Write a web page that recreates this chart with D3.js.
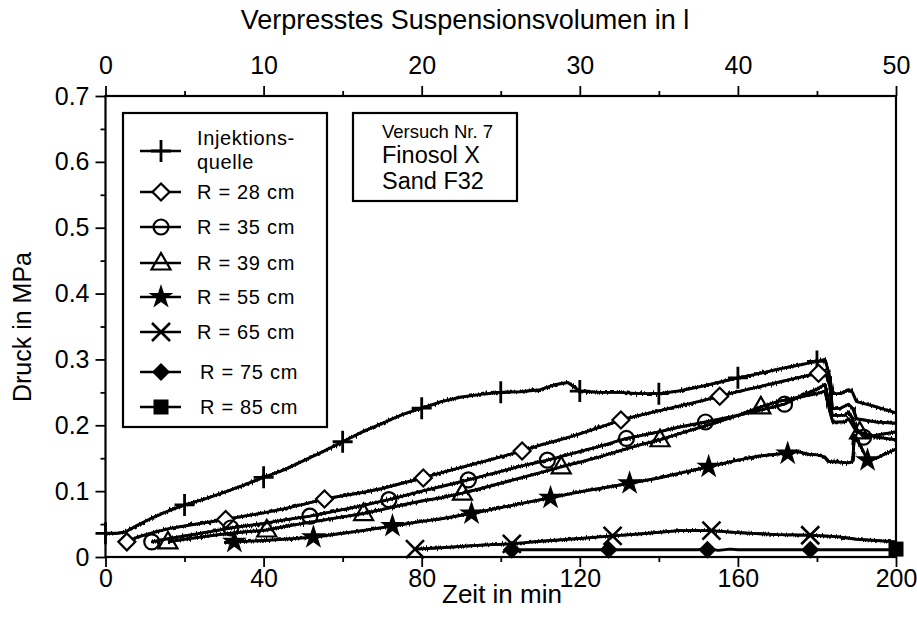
<!DOCTYPE html>
<html><head><meta charset="utf-8">
<script src="https://cdn.jsdelivr.net/npm/d3@7"></script>
<style>
body{margin:0;background:#fff;}
text{font-family:"Liberation Sans",Arial,sans-serif;fill:#000;}
</style></head>
<body><svg id="c" width="917" height="634"></svg>
<script>
// ---- data ----
const xTicksMajor = [0, 40, 80, 120, 160, 200];
const xTicksMinor = [20, 60, 100, 140, 180];
const x2TicksMajor = [0, 10, 20, 30, 40, 50];
const x2TicksMinor = [5, 15, 25, 35, 45];
const yTicksMajor = [0, 0.1, 0.2, 0.3, 0.4, 0.5, 0.6, 0.7];
const yTicksMinor = [0.05, 0.15, 0.25, 0.35, 0.45, 0.55, 0.65];

const injLine = [[0,0.036],[3,0.036],[5,0.038],[8,0.048],[12,0.06],[16,0.07],[20,0.079],[25,0.088],[30,0.098],[35,0.109],[40,0.121],[45,0.132],[50,0.146],[55,0.16],[60,0.175],[65,0.19],[70,0.203],[75,0.216],[80,0.226],[85,0.236],[90,0.243],[95,0.247],[100,0.25],[105,0.251],[110,0.254],[114,0.262],[117,0.265],[120,0.252],[125,0.25],[130,0.25],[135,0.248],[140,0.248],[145,0.252],[150,0.258],[155,0.265],[160,0.272],[165,0.278],[170,0.285],[175,0.291],[180,0.297],[182,0.3],[183,0.28],[184,0.248],[186,0.248],[188,0.254],[189,0.25],[190,0.236],[195,0.228],[200,0.219]];
const injMarks = [[0,0.036],[20,0.079],[40,0.121],[60,0.175],[80,0.226],[100,0.25],[120,0.252],[140,0.248],[160,0.272],[180,0.297]];

const r28Line = [[5.4,0.023],[8,0.03],[12,0.037],[16,0.043],[20,0.047],[25,0.052],[30.4,0.057],[35,0.062],[40,0.067],[45,0.073],[50,0.08],[55.4,0.088],[60,0.093],[65,0.098],[70,0.104],[75,0.112],[80.4,0.12],[85,0.128],[90,0.136],[95,0.144],[100,0.152],[105.4,0.161],[110,0.17],[115,0.178],[120,0.187],[125,0.197],[130.4,0.208],[135,0.215],[140,0.222],[145,0.229],[150,0.236],[155.4,0.244],[160,0.251],[165,0.258],[170,0.265],[175,0.272],[180.4,0.279],[182,0.283],[183.2,0.26],[184,0.225],[186,0.226],[188,0.232],[189,0.226],[190,0.21],[195,0.205],[200,0.203]];
const r28Marks = [[5.4,0.023],[30.4,0.057],[55.4,0.088],[80.4,0.12],[105.4,0.161],[130.4,0.208],[155.4,0.244],[180.4,0.279]];

const r35Line = [[11.7,0.023],[15,0.027],[20,0.032],[25,0.037],[31.7,0.044],[40,0.051],[45,0.056],[51.7,0.062],[60,0.072],[65,0.078],[71.7,0.087],[80,0.1],[85,0.107],[91.8,0.117],[100,0.13],[105,0.138],[111.8,0.147],[120,0.16],[125,0.168],[131.8,0.18],[140,0.19],[145,0.197],[151.8,0.205],[160,0.215],[165,0.222],[171.8,0.232],[176,0.245],[180,0.255],[182,0.262],[183.3,0.23],[184,0.215],[187,0.215],[188,0.22],[189,0.21],[190,0.195],[191.8,0.182],[195,0.185],[200,0.19]];
const r35Marks = [[11.7,0.023],[31.7,0.044],[51.7,0.062],[71.7,0.087],[91.8,0.117],[111.8,0.147],[131.8,0.18],[151.8,0.205],[171.8,0.232],[191.8,0.182]];

const r39Line = [[15.8,0.023],[20,0.027],[25,0.031],[30,0.035],[35,0.038],[40.8,0.041],[45,0.046],[50,0.051],[55,0.056],[60,0.061],[65.3,0.066],[70,0.072],[75,0.079],[80,0.085],[85,0.09],[90.3,0.097],[95,0.104],[100,0.112],[105,0.12],[110,0.128],[115.3,0.137],[120,0.144],[125,0.152],[130,0.161],[135,0.17],[140.3,0.178],[145,0.187],[150,0.196],[155,0.205],[160,0.215],[165.8,0.228],[170,0.236],[175,0.242],[180,0.248],[182,0.252],[183.3,0.22],[184,0.205],[187,0.205],[188,0.21],[189,0.2],[190,0.19],[191.8,0.188],[195,0.182],[200,0.178]];
const r39Marks = [[15.8,0.023],[40.8,0.041],[65.3,0.066],[90.3,0.097],[115.3,0.137],[140.3,0.178],[165.8,0.228],[190.8,0.19]];

const r55Line = [[30,0.022],[32.6,0.023],[40,0.025],[45,0.027],[52.6,0.03],[60,0.036],[65,0.04],[72.6,0.047],[80,0.054],[85,0.058],[92.6,0.066],[100,0.075],[105,0.081],[112.6,0.09],[120,0.099],[125,0.104],[132.6,0.112],[140,0.12],[145,0.127],[152.6,0.137],[160,0.147],[165,0.153],[172.6,0.158],[175,0.16],[178,0.156],[180,0.155],[182,0.152],[183,0.145],[188,0.143],[189,0.145],[189.5,0.185],[190.5,0.175],[192.8,0.147],[195,0.15],[200,0.164]];
const r55Marks = [[32.6,0.023],[52.6,0.03],[72.6,0.047],[92.6,0.066],[112.6,0.09],[132.6,0.112],[152.6,0.137],[172.6,0.157],[192.8,0.147]];

const r65Line = [[78.3,0.012],[85,0.014],[95,0.018],[102.8,0.02],[110,0.024],[120,0.028],[128.3,0.032],[135,0.035],[145,0.04],[153.3,0.04],[160,0.037],[170,0.034],[178.3,0.033],[185,0.031],[190,0.027],[195,0.025],[200,0.023]];
const r65Marks = [[78.3,0.012],[102.8,0.02],[128.3,0.032],[153.3,0.04],[178.3,0.033]];

const r75Line = [[102.8,0.011],[150,0.011],[152,0.013],[155,0.01],[158,0.012],[160,0.011],[200,0.011]];
const r75Marks = [[102.8,0.011],[127.3,0.011],[152.3,0.011],[178.3,0.011]];

const r85Line = [[200,0.012]];
const r85Marks = [[200,0.012]];

const legendLabels = ["Injektions-|quelle","R = 28 cm","R = 35 cm","R = 39 cm","R = 55 cm","R = 65 cm","R = 75 cm","R = 85 cm"];
const boxLines = ["Versuch Nr. 7","Finosol X","Sand F32"];

// ---- drawing ----
const svg = d3.select("#c");
const L = 105.5, R = 896, T = 96, B = 557;
const x = d3.scaleLinear().domain([0,200]).range([L,R]);
const x2 = d3.scaleLinear().domain([0,50]).range([L,R]);
const y = d3.scaleLinear().domain([0,0.7]).range([B,T]);

const defs = svg.append("defs");
const f = defs.append("filter").attr("id","jit").attr("filterUnits","userSpaceOnUse")
  .attr("x",0).attr("y",0).attr("width",917).attr("height",634);
f.append("feTurbulence").attr("type","fractalNoise").attr("baseFrequency","0.8 0.06").attr("numOctaves",1).attr("seed",4).attr("result","n");
f.append("feDisplacementMap").attr("in","SourceGraphic").attr("in2","n").attr("scale",7).attr("xChannelSelector","G").attr("yChannelSelector","R");

const fs = 25;
function axisStyle(g){ g.select(".domain").remove(); g.selectAll("line").attr("stroke","#000").attr("stroke-width",1.8); g.selectAll("text").attr("font-size",fs).attr("font-family","Liberation Sans, Arial, sans-serif"); }

svg.append("g").attr("transform",`translate(0,${B})`).call(d3.axisBottom(x).tickValues(xTicksMinor).tickSize(5).tickFormat("")).call(axisStyle);
svg.append("g").attr("transform",`translate(0,${B})`).call(d3.axisBottom(x).tickValues(xTicksMajor).tickSize(10).tickPadding(2).tickFormat(d3.format("d"))).call(axisStyle);
svg.append("g").attr("transform",`translate(0,${T})`).call(d3.axisTop(x2).tickValues(x2TicksMinor).tickSize(5).tickFormat("")).call(axisStyle);
svg.append("g").attr("transform",`translate(0,${T})`).call(d3.axisTop(x2).tickValues(x2TicksMajor).tickSize(10).tickPadding(12).tickFormat(d3.format("d"))).call(axisStyle);
svg.append("g").attr("transform",`translate(${L},0)`).call(d3.axisLeft(y).tickValues(yTicksMinor).tickSize(5).tickFormat("")).call(axisStyle);
svg.append("g").attr("transform",`translate(${L},0)`).call(d3.axisLeft(y).tickValues(yTicksMajor).tickSize(10).tickPadding(6).tickFormat(d=>d===0?"0":d3.format(".1f")(d))).call(axisStyle);

svg.append("rect").attr("x",L).attr("y",T).attr("width",R-L).attr("height",B-T).attr("fill","none").attr("stroke","#000").attr("stroke-width",2.2);

svg.append("text").attr("x",502).attr("y",603).attr("text-anchor","middle").attr("font-size",26).text("Zeit in min");
svg.append("text").attr("x",465).attr("y",29).attr("text-anchor","middle").attr("font-size",27).text("Verpresstes Suspensionsvolumen in l");
svg.append("text").attr("transform","translate(31,327) rotate(-90)").attr("text-anchor","middle").attr("font-size",25).text("Druck in MPa");

// markers
const star = d3.symbol().type(d3.symbolStar).size(190);
function marker(g, kind, cx, cy){
  const s = g.append("g").attr("transform",`translate(${cx},${cy})`);
  if(kind==="plus"){ s.append("path").attr("d","M-10,0H10M0,-11V11").attr("stroke","#000").attr("stroke-width",2.8); }
  else if(kind==="diamond"){ s.append("path").attr("d","M0,-8.5L8.5,0L0,8.5L-8.5,0Z").attr("fill","#fff").attr("stroke","#000").attr("stroke-width",2.2); }
  else if(kind==="circle"){ s.append("circle").attr("r",7.5).attr("fill","none").attr("stroke","#000").attr("stroke-width",2.2); }
  else if(kind==="triangle"){ s.append("path").attr("d","M0,-10L9.5,6.5L-9.5,6.5Z").attr("fill","none").attr("stroke","#000").attr("stroke-width",2.2); }
  else if(kind==="star"){ s.append("path").attr("d",star()).attr("fill","#000"); }
  else if(kind==="x"){ s.append("path").attr("d","M-9,-9L9,9M-9,9L9,-9").attr("stroke","#000").attr("stroke-width",2.6); }
  else if(kind==="fdiamond"){ s.append("path").attr("d","M0,-9L9,0L0,9L-9,0Z").attr("fill","#000"); }
  else if(kind==="square"){ s.append("rect").attr("x",-7.5).attr("y",-7.5).attr("width",15).attr("height",15).attr("fill","#000"); }
}

const series = [
  {line:injLine, marks:injMarks, kind:"plus", jit:true},
  {line:r28Line, marks:r28Marks, kind:"diamond", jit:true},
  {line:r35Line, marks:r35Marks, kind:"circle", jit:true},
  {line:r39Line, marks:r39Marks, kind:"triangle", jit:true},
  {line:r55Line, marks:r55Marks, kind:"star", jit:true},
  {line:r65Line, marks:r65Marks, kind:"x", jit:true},
  {line:r75Line, marks:r75Marks, kind:"fdiamond", jit:false},
  {line:r85Line, marks:r85Marks, kind:"square", jit:false}
];
const lineGen = d3.line().x(d=>x(d[0])).y(d=>y(d[1]));
const plot = svg.append("g");
series.forEach(s=>{
  plot.append("path").datum(s.line).attr("d",lineGen).attr("fill","none").attr("stroke","#000").attr("stroke-width",2.9).attr("stroke-linejoin","round");
  if(s.jit) plot.append("path").datum(s.line).attr("d",lineGen).attr("fill","none").attr("stroke","#000").attr("stroke-width",2.6).attr("stroke-linejoin","round").attr("filter","url(#jit)");
});
series.forEach(s=>{ s.marks.forEach(m=>marker(plot, s.kind, x(m[0]), y(m[1]))); });

// legend
const lg = svg.append("g");
lg.append("rect").attr("x",123).attr("y",113).attr("width",204).attr("height",314).attr("fill","#fff").attr("stroke","#000").attr("stroke-width",2.2);
const rowsY = [151,192,227,263,297,332,372,407];
legendLabels.forEach((lab,i)=>{
  const yy = rowsY[i];
  lg.append("line").attr("x1",140).attr("x2",181).attr("y1",yy).attr("y2",yy).attr("stroke","#000").attr("stroke-width",2.4);
  marker(lg, series[i].kind, 161, yy);
  const parts = lab.split("|");
  if(parts.length===2){
    lg.append("text").attr("x",197).attr("y",145).attr("font-size",20).attr("letter-spacing",0.6).text(parts[0]);
    lg.append("text").attr("x",197).attr("y",169).attr("font-size",20).attr("letter-spacing",0.6).text(parts[1]);
  } else {
    lg.append("text").attr("x",i===6||i===7?200:197).attr("y",yy+7).attr("font-size",20).attr("letter-spacing",0.7).text(lab);
  }
});

// info box
const ib = svg.append("g");
ib.append("rect").attr("x",353).attr("y",113).attr("width",164).attr("height",88).attr("fill","#fff").attr("stroke","#000").attr("stroke-width",2.2);
ib.append("text").attr("x",382).attr("y",138).attr("font-size",18.5).text(boxLines[0]);
ib.append("text").attr("x",382).attr("y",163).attr("font-size",23.5).text(boxLines[1]);
ib.append("text").attr("x",382).attr("y",189).attr("font-size",23.5).text(boxLines[2]);
</script></body></html>
